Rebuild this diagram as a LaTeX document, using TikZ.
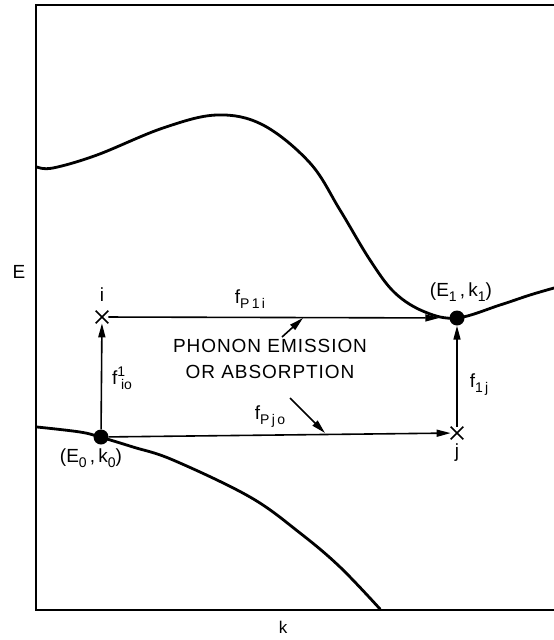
\documentclass[tikz,border=0pt]{standalone}
\usepackage{fontspec}
\setmainfont{Liberation Sans}
\usetikzlibrary{arrows.meta,shapes.misc}
\newcommand\lsub[1]{\raisebox{-5pt}{\fontsize{14}{14}\selectfont #1}}
\newcommand\lsup[1]{\raisebox{8pt}{\fontsize{14}{14}\selectfont #1}}
\begin{document}
\begin{tikzpicture}[x=1pt,y=-1pt,
  curve/.style={line width=2.8pt, line cap=round},
  frame/.style={line width=1.8pt},
  conn/.style={line width=1.6pt, -{Triangle[length=14pt,width=7pt]}},
  lbl/.style={font=\fontsize{19}{20}\selectfont, inner sep=0pt},
  big/.style={font=\fontsize{19}{26}\selectfont\addfontfeature{LetterSpace=5}, align=center, inner sep=0pt},
  crossmark/.style={draw, cross out, line width=1.7pt, minimum size=11pt, inner sep=0pt},
  dot/.style={circle, fill, inner sep=0pt, minimum size=15pt}
]
\useasboundingbox (0,0) rectangle (554,640);
% frame
\coordinate (tr) at (554,5);
\coordinate (tl) at (36,5);
\coordinate (bl) at (36,610);
\coordinate (br) at (554,610);
\draw[frame] (tr) -- (tl) -- (bl) -- (br);
% bands
\draw[curve] plot[smooth, tension=0.6] coordinates {(37,167) (53,168) (97,155) (163,128) (217,115) (263,125) (310,163) (340,210) (370,260) (395,293) (425,312) (457,318) (500,305) (530,295) (554,288)};
\draw[curve] plot[smooth, tension=0.6] coordinates {(37,427) (80,432) (100,437) (133,447) (173,460) (250,497) (300,533) (340,567) (380,609)};
% states
\node[dot] (E1) at (457,318) {};
\node[dot] (E0) at (101,437) {};
\node[crossmark] (i) at (102,317) {};
\node[crossmark] (j) at (457,433) {};
% transitions
\draw[conn, shorten >=10pt] (i) -- (E1);
\draw[conn] (E0) -- (j);
\draw[conn] (E0) -- (i);
\draw[conn] (j) -- (E1);
% labels
\node[lbl] (li) at (102,295) {i};
\node[lbl] (lj) at (457,453) {j};
\node[lbl] (lE1) at (461,292) {(E\lsub{1}\,,\,k\lsub{1})};
\node[lbl] (lE0) at (91,458) {(E\lsub{0}\,,\,k\lsub{0})};
\node[lbl] (f1) at (250,299) {f\lsub{P\,1\,i}};
\node[lbl] (f2) at (270,417) {f\lsub{P\,j\,o}};
\node[lbl] (f3) at (122,378) {f\lsup{1}\hspace{-4pt}\lsub{io}};
\node[lbl] (f4) at (479,385) {f\lsub{1\,j}};
\node[big] (ph) at (270,359) {PHONON EMISSION\\OR ABSORPTION};
\coordinate (a1s) at (282,337);
\coordinate (a1e) at (303,318);
\coordinate (a2s) at (290,398);
\coordinate (a2e) at (325,433);
\draw[conn] (a1s) -- (a1e);
\draw[conn] (a2s) -- (a2e);
\node[lbl] (E) at (19,272) {E};
\node[lbl, font=\fontsize{17}{18}\selectfont] (k) at (283,627) {k};
\end{tikzpicture}
\end{document}
